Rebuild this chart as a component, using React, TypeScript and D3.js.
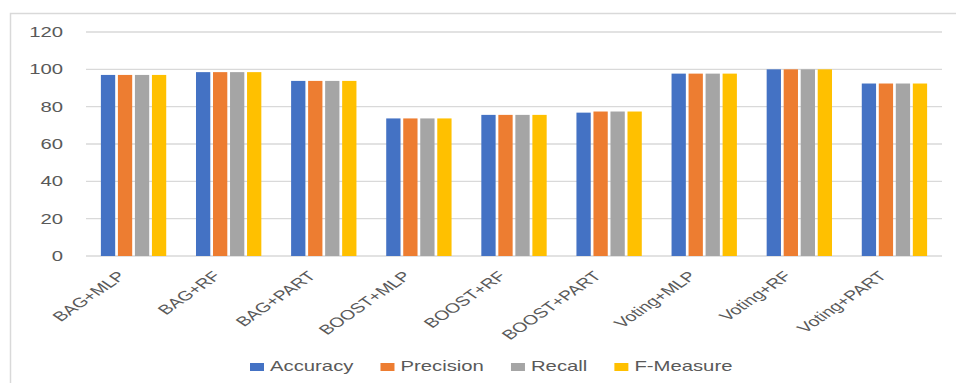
import React from "react";
import * as d3 from "d3";

const categories = [
  "BAG+MLP",
  "BAG+RF",
  "BAG+PART",
  "BOOST+MLP",
  "BOOST+RF",
  "BOOST+PART",
  "Voting+MLP",
  "Voting+RF",
  "Voting+PART",
];
const seriesNames = ["Accuracy", "Precision", "Recall", "F-Measure"];
const seriesColors = ["#4472C4", "#ED7D31", "#A5A5A5", "#FFC000"];

const accuracy = [97, 98.5, 93.8, 73.7, 75.6, 76.8, 97.7, 100, 92.4];
const precision = [97, 98.5, 93.8, 73.7, 75.6, 77.4, 97.7, 100, 92.4];
const recall = [97, 98.5, 93.8, 73.7, 75.6, 77.4, 97.7, 100, 92.4];
const fMeasure = [97, 98.5, 93.8, 73.7, 75.6, 77.4, 97.7, 100, 92.4];
const seriesValues = [accuracy, precision, recall, fMeasure];

const yTicks = [0, 20, 40, 60, 80, 100, 120];

const W = 956;
const H = 383;
const FONT = "'Liberation Sans', Arial, sans-serif";
const STRETCH = 1.45; // the source picture is stretched sideways
const TEXT = "#595959";

const measure = (s: string, size: number) => {
  const ctx = document.createElement("canvas").getContext("2d");
  if (!ctx) return s.length * size * 0.55;
  ctx.font = `${size}px ${FONT}`;
  return ctx.measureText(s).width;
};

const App = () => {
  const margin = { top: 32, left: 86, right: 14, bottom: 127 };
  const plotRight = W - margin.right;
  const plotBottom = H - margin.bottom;

  const x = d3
    .scaleBand<string>()
    .domain(categories)
    .range([margin.left, plotRight])
    .paddingInner(0.313)
    .paddingOuter(0.1565);

  const xs = d3
    .scaleBand<string>()
    .domain(seriesNames)
    .range([0, x.bandwidth()])
    .paddingInner(0.16);

  const y = d3.scaleLinear().domain([0, 120]).range([plotBottom, margin.top]);

  // legend layout
  const legendSize = 14;
  const sq = 14;
  const legendGap = 27;
  let lx = 250;
  const legend = seriesNames.map((name, i) => {
    const tw = measure(name, legendSize) * STRETCH;
    const item = { name, color: seriesColors[i], x: lx };
    lx += sq + 6 + tw + legendGap;
    return item;
  });

  return (
    <svg
      width={W}
      height={H}
      style={{ position: "absolute", left: 0, top: 0, background: "#fff" }}
      fontFamily={FONT}
    >
      <rect x={10.5} y={13.5} width={W} height={H} fill="#fff" stroke="#D9D9D9" strokeWidth={1.5} />

      {/* grid */}
      {yTicks.map((t) => (
        <line
          key={t}
          x1={margin.left}
          x2={plotRight}
          y1={y(t)}
          y2={y(t)}
          stroke="#D9D9D9"
          strokeWidth={1.3}
        />
      ))}

      {/* y tick labels */}
      {yTicks.map((t) => (
        <text
          key={t}
          transform={`translate(63,${y(t) + 5}) scale(${STRETCH},1)`}
          textAnchor="end"
          fontSize={14}
          fill={TEXT}
        >
          {t}
        </text>
      ))}

      {/* bars */}
      {categories.map((c, ci) => (
        <g key={c} transform={`translate(${x(c)},0)`}>
          {seriesNames.map((s, si) => {
            const v = seriesValues[si][ci];
            return (
              <rect
                key={s}
                x={xs(s)}
                y={y(v)}
                width={xs.bandwidth()}
                height={plotBottom - y(v)}
                fill={seriesColors[si]}
              />
            );
          })}
        </g>
      ))}

      {/* category labels */}
      {categories.map((c) => {
        const cx = (x(c) || 0) + x.bandwidth() / 2;
        return (
          <text
            key={c}
            transform={`translate(${cx - 7},${plotBottom + 21}) scale(${STRETCH},1) rotate(-45)`}
            textAnchor="end"
            fontSize={13.5}
            fill={TEXT}
          >
            {c}
          </text>
        );
      })}

      {/* legend */}
      {legend.map((d) => (
        <g key={d.name}>
          <rect x={d.x} y={363} width={sq} height={8} fill={d.color} />
          <text
            transform={`translate(${d.x + sq + 6},371) scale(${STRETCH},1)`}
            fontSize={legendSize}
            fill={TEXT}
          >
            {d.name}
          </text>
        </g>
      ))}
    </svg>
  );
};

export default App;
